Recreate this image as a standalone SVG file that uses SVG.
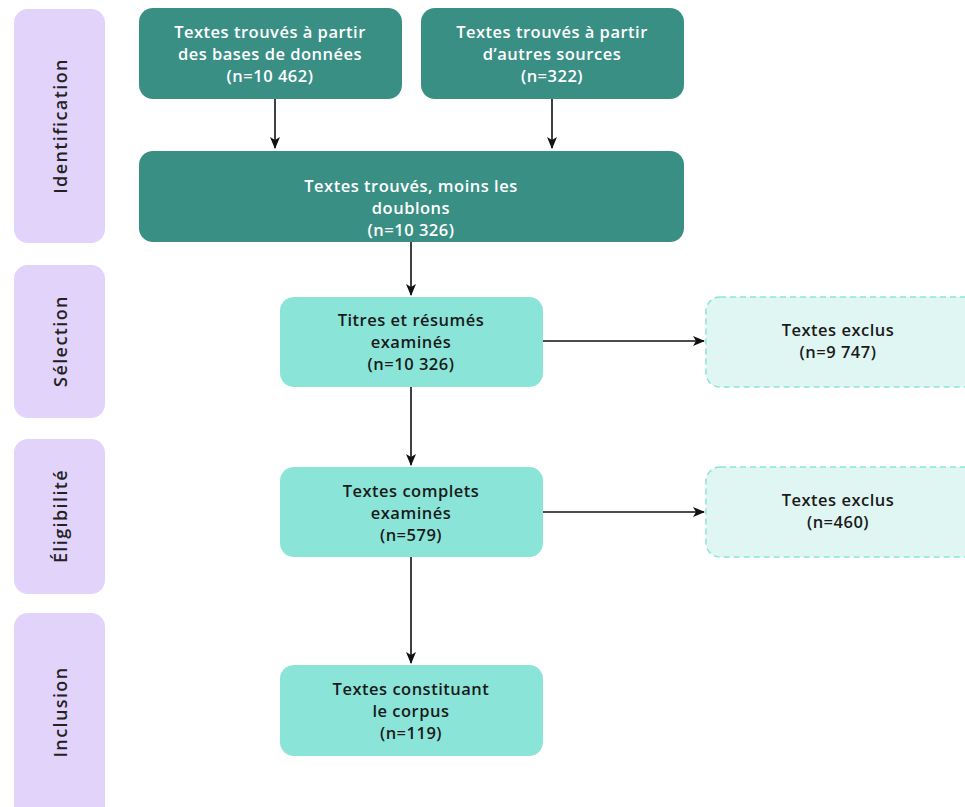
<svg xmlns="http://www.w3.org/2000/svg" width="965" height="807" viewBox="0 0 965 807">
<defs>
<style>
.phase{fill:#e2d3fb}
.phtxt{font-family:"Open Sans",sans-serif;font-weight:600;font-size:18px;letter-spacing:1.4px;fill:#222;text-anchor:middle}
.dark{fill:#3a8f85}
.light{fill:#8ae5d8}
.excl{fill:#e0f6f2;stroke:#8ae5d8;stroke-width:1.5;stroke-dasharray:6 4}
.wt{font-family:"Open Sans",sans-serif;font-weight:600;font-size:16.5px;letter-spacing:0.5px;fill:#fff;text-anchor:middle}
.bt{font-family:"Open Sans",sans-serif;font-weight:600;font-size:16.5px;letter-spacing:0.5px;fill:#1a1a1a;text-anchor:middle}
.conn{stroke:#111;stroke-width:1.6;fill:none;marker-end:url(#ah)}
</style>
<marker id="ah" viewBox="0 0 12 10" refX="11" refY="5" markerWidth="12" markerHeight="10" markerUnits="userSpaceOnUse" orient="auto">
<path d="M0,0 L12,5 L0,10 L3,5 z" fill="#111"/>
</marker>
</defs>
<rect width="965" height="807" fill="#fff"/>
<g id="phase-identification"><rect class="phase" x="14" y="9" width="91" height="234" rx="14"/><text class="phtxt" transform="translate(67,126) rotate(-90)">Identification</text></g>
<g id="phase-selection"><rect class="phase" x="14" y="265" width="91" height="153" rx="14"/><text class="phtxt" transform="translate(67,341) rotate(-90)">Sélection</text></g>
<g id="phase-eligibilite"><rect class="phase" x="14" y="439" width="91" height="155" rx="14"/><text class="phtxt" transform="translate(67,516) rotate(-90)">Éligibilité</text></g>
<g id="phase-inclusion"><rect class="phase" x="14" y="613" width="91" height="210" rx="14"/><text class="phtxt" transform="translate(67,712) rotate(-90)">Inclusion</text></g>
<g id="connectors">
<line class="conn" x1="275" y1="99" x2="275" y2="148"/>
<line class="conn" x1="552" y1="99" x2="552" y2="148"/>
<line class="conn" x1="411" y1="242" x2="411" y2="295"/>
<line class="conn" x1="543" y1="341" x2="704" y2="341"/>
<line class="conn" x1="411" y1="387" x2="411" y2="465"/>
<line class="conn" x1="543" y1="512" x2="704" y2="512"/>
<line class="conn" x1="411" y1="557" x2="411" y2="663"/>
</g>
<g id="n-bases"><rect class="dark" x="139" y="8" width="263" height="91" rx="14"/>
<text class="wt" x="270" y="38">Textes trouvés à partir</text><text class="wt" x="270" y="60">des bases de données</text><text class="wt" x="270" y="82">(n=10 462)</text></g>
<g id="n-autres"><rect class="dark" x="421" y="8" width="263" height="91" rx="14"/>
<text class="wt" x="552" y="38">Textes trouvés à partir</text><text class="wt" x="552" y="60">d’autres sources</text><text class="wt" x="552" y="82">(n=322)</text></g>
<g id="n-doublons"><rect class="dark" x="139" y="151" width="545" height="91" rx="14"/>
<text class="wt" x="411" y="192">Textes trouvés, moins les</text><text class="wt" x="411" y="214">doublons</text><text class="wt" x="411" y="236">(n=10 326)</text></g>
<g id="n-titres"><rect class="light" x="280" y="297" width="263" height="90" rx="14"/>
<text class="bt" x="411" y="326">Titres et résumés</text><text class="bt" x="411" y="348">examinés</text><text class="bt" x="411" y="370">(n=10 326)</text></g>
<g id="n-excl1"><rect class="excl" x="706" y="297" width="275" height="90" rx="14"/>
<text class="bt" x="838" y="336">Textes exclus</text><text class="bt" x="838" y="358">(n=9 747)</text></g>
<g id="n-complets"><rect class="light" x="280" y="467" width="263" height="90" rx="14"/>
<text class="bt" x="411" y="497">Textes complets</text><text class="bt" x="411" y="519">examinés</text><text class="bt" x="411" y="541">(n=579)</text></g>
<g id="n-excl2"><rect class="excl" x="706" y="467" width="275" height="90" rx="14"/>
<text class="bt" x="838" y="506">Textes exclus</text><text class="bt" x="838" y="528">(n=460)</text></g>
<g id="n-corpus"><rect class="light" x="280" y="665" width="263" height="91" rx="14"/>
<text class="bt" x="411" y="695">Textes constituant</text><text class="bt" x="411" y="717">le corpus</text><text class="bt" x="411" y="739">(n=119)</text></g>
</svg>
